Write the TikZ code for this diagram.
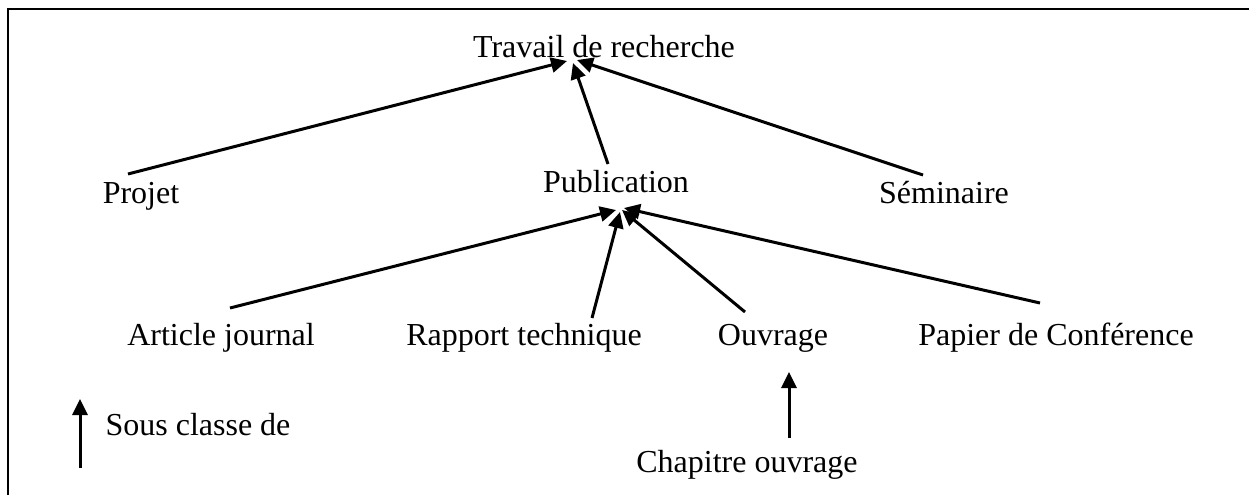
\documentclass[tikz,border=0pt]{standalone}
\usepackage{fontspec}
\setmainfont{Liberation Serif}
\usetikzlibrary{arrows.meta}
\begin{document}
\begin{tikzpicture}[x=1pt,y=-1pt,
  lbl/.style={font=\fontsize{32}{38}\selectfont, inner sep=0pt, outer sep=0pt,
              text height=23pt, text depth=7pt, anchor=base},
  isa/.style={line width=3pt, -{Triangle[length=16pt,width=15pt]}},
  frame/.style={line width=2.6pt}]
\useasboundingbox (0,0) rectangle (1249,495);

% open frame: top and left edges only
\draw[frame] (8,495) -- (8,9) -- (1249,9);

% class names
\node[lbl] (trav) at (604,58)  {Travail de recherche};
\node[lbl] (proj) at (141,203) {Projet};
\node[lbl] (pub)  at (616,192) {Publication};
\node[lbl] (sem)  at (944,203) {Séminaire};
\node[lbl] (art)  at (221,345) {Article journal};
\node[lbl] (rap)  at (524,345) {Rapport technique};
\node[lbl] (ouv)  at (773,345) {Ouvrage};
\node[lbl] (pap)  at (1056,345){Papier de Conférence};
\node[lbl] (chap) at (747,472) {Chapitre ouvrage};
\node[lbl] (leg)  at (198,435) {Sous classe de};

% subclass links
\draw[isa] ([shift={(-13,-6)}]proj.north) -- ([shift={(-37,-4)}]trav.south);
\draw[isa] ([shift={(-8,-5)}]pub.north)   -- ([shift={(-31,-2)}]trav.south);
\draw[isa] ([shift={(-21,-5)}]sem.north)  -- ([shift={(-27,-5)}]trav.south);

\draw[isa] ([shift={(9,-14)}]art.north)   -- ([shift={(0,11)}]pub.south);
\draw[isa] ([shift={(68,-4)}]rap.north)   -- ([shift={(4,13)}]pub.south);
\draw[isa] ([shift={(-28,-10)}]ouv.north) -- ([shift={(6,11)}]pub.south);
\draw[isa] ([shift={(-16,-19)}]pap.north) -- ([shift={(8,9)}]pub.south);

\draw[isa] ([shift={(42,-11)}]chap.north) -- ([shift={(16,20)}]ouv.south);

% legend arrow
\coordinate (legfoot) at (80,468);
\coordinate (leghead) at (80,399);
\draw[isa] (legfoot) -- (leghead);
\end{tikzpicture}
\end{document}
